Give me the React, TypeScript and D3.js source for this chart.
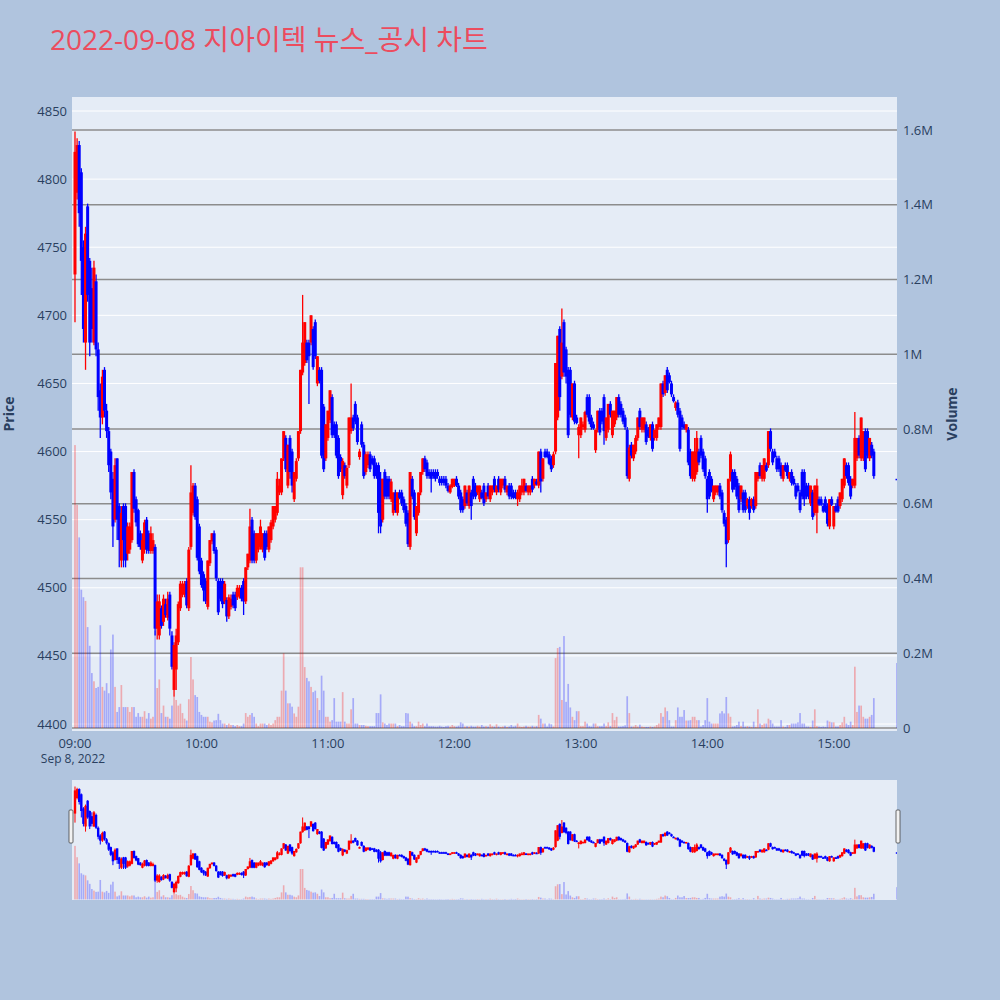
import React, { useEffect, useRef } from 'react';
import * as d3 from 'd3';

const title = '2022-09-08 지아이텍 뉴스_공시 차트';

// one row per minute from 09:00
const opens = [
  4730,4790,4825,4805,4750,4680,4780,4740,4720,4680,
  4725,4675,4645,4625,4660,4630,4615,4600,4580,4550,
  4595,4560,4520,4560,4560,4525,4528,4535,4585,4565,
  4557,4540,4520,4528,4550,4540,4527,4527,4530,4470,
  4465,4485,4475,4488,4478,4495,4465,4425,4440,4460,
  4485,4495,4495,4505,4485,4530,4555,4575,4565,4545,
  4520,4510,4505,4486,4518,4534,4540,4528,4505,4505,
  4505,4490,4491,4479,4486,4495,4495,4493,4494,4500,
  4505,4490,4515,4520,4550,4540,4520,4528,4530,4528,
  4540,4540,4528,4535,4545,4550,4555,4570,4570,4595,
  4610,4575,4610,4600,4565,4580,4595,4615,4658,4665,
  4680,4680,4680,4690,4695,4650,4660,4660,4633,4595,
  4610,4623,4640,4620,4620,4610,4596,4568,4590,4575,
  4590,4615,4625,4635,4625,4596,4620,4605,4585,4590,
  4598,4595,4595,4590,4590,4580,4550,4585,4580,4580,
  4565,4555,4570,4555,4570,4570,4565,4560,4555,4530,
  4580,4570,4540,4555,4570,4585,4595,4592,4585,4585,
  4585,4585,4585,4580,4580,4580,4580,4575,4570,4574,
  4575,4580,4575,4570,4565,4560,4570,4560,4570,4580,
  4575,4570,4565,4570,4575,4565,4575,4565,4570,4580,
  4570,4580,4570,4575,4580,4570,4575,4575,4570,4570,
  4565,4565,4570,4570,4575,4570,4570,4580,4575,4578,
  4575,4600,4580,4600,4600,4598,4595,4590,4600,4625,
  4690,4655,4695,4675,4660,4660,4625,4650,4625,4612,
  4612,4618,4616,4640,4640,4625,4620,4601,4616,4630,
  4630,4640,4610,4616,4635,4612,4620,4625,4640,4635,
  4630,4625,4616,4580,4605,4595,4600,4610,4630,4616,
  4616,4620,4616,4610,4620,4610,4610,4618,4618,4650,
  4643,4660,4656,4650,4640,4632,4636,4630,4625,4620,
  4616,4616,4600,4580,4580,4585,4600,4610,4600,4595,
  4580,4585,4580,4565,4570,4570,4575,4570,4555,4550,
  4535,4580,4585,4585,4580,4575,4565,4570,4570,4560,
  4565,4560,4565,4560,4580,4590,4580,4580,4590,4590,
  4615,4600,4600,4595,4595,4590,4580,4590,4590,4580,
  4585,4580,4575,4575,4570,4585,4585,4575,4575,4562,
  4570,4555,4555,4565,4565,4560,4565,4560,4545,4565,
  4545,4560,4565,4560,4565,4575,4590,4590,4580,4575,
  4575,4595,4610,4595,4595,4615,4615,4595,4605,4600,
];

const highs = [
  4835,4830,4828,4808,4755,4765,4782,4742,4735,4740,
  4730,4680,4650,4660,4662,4635,4618,4602,4585,4595,
  4595,4562,4560,4562,4562,4548,4548,4585,4587,4567,
  4558,4542,4540,4550,4552,4542,4545,4540,4532,4495,
  4495,4487,4495,4492,4497,4497,4468,4460,4470,4490,
  4505,4505,4505,4507,4530,4590,4577,4577,4567,4547,
  4522,4512,4507,4520,4535,4540,4542,4530,4507,4507,
  4507,4505,4493,4495,4495,4497,4497,4502,4502,4502,
  4507,4515,4525,4558,4552,4542,4540,4540,4550,4540,
  4542,4542,4545,4550,4560,4560,4585,4580,4595,4615,
  4612,4605,4612,4602,4585,4595,4615,4660,4715,4695,
  4682,4682,4700,4692,4697,4670,4662,4662,4635,4620,
  4630,4645,4642,4622,4622,4612,4598,4595,4592,4590,
  4625,4650,4627,4637,4627,4602,4622,4607,4600,4600,
  4600,4597,4597,4592,4592,4585,4580,4587,4582,4582,
  4580,4570,4572,4570,4572,4572,4567,4562,4557,4585,
  4582,4572,4560,4570,4585,4595,4597,4594,4587,4587,
  4587,4587,4587,4582,4582,4582,4582,4577,4576,4580,
  4580,4582,4577,4572,4567,4575,4572,4575,4572,4582,
  4577,4575,4575,4572,4577,4570,4577,4575,4575,4582,
  4575,4582,4580,4580,4582,4575,4577,4577,4572,4572,
  4572,4575,4580,4580,4577,4575,4575,4582,4580,4580,
  4600,4602,4595,4602,4602,4600,4597,4600,4665,4685,
  4692,4705,4697,4677,4662,4662,4650,4652,4627,4620,
  4625,4622,4630,4642,4642,4627,4622,4616,4630,4632,
  4632,4642,4625,4635,4637,4630,4630,4640,4642,4637,
  4632,4627,4618,4605,4607,4605,4612,4625,4632,4625,
  4625,4622,4618,4620,4622,4616,4620,4625,4650,4652,
  4656,4662,4658,4652,4642,4637,4638,4632,4627,4622,
  4620,4618,4602,4600,4610,4615,4602,4612,4602,4597,
  4582,4587,4582,4575,4575,4575,4577,4572,4557,4552,
  4580,4600,4587,4587,4582,4577,4575,4572,4572,4566,
  4567,4566,4567,4585,4585,4592,4590,4595,4592,4615,
  4617,4602,4602,4597,4597,4592,4590,4592,4592,4585,
  4587,4582,4577,4577,4572,4587,4587,4577,4577,4575,
  4572,4575,4580,4567,4567,4562,4567,4562,4565,4567,
  4560,4562,4567,4570,4580,4595,4592,4592,4582,4580,
  4629,4610,4612,4625,4615,4617,4617,4610,4607,4602,
];

const lows = [
  4695,4785,4765,4715,4680,4660,4710,4670,4680,4678,
  4670,4630,4610,4620,4625,4610,4585,4565,4530,4548,
  4535,4515,4515,4515,4515,4520,4525,4533,4555,4545,
  4530,4528,4518,4525,4525,4525,4525,4525,4465,4462,
  4462,4470,4472,4478,4476,4465,4440,4420,4425,4458,
  4483,4493,4493,4485,4483,4528,4553,4550,4520,4510,
  4500,4490,4488,4484,4516,4532,4525,4505,4480,4490,
  4485,4488,4475,4477,4484,4485,4483,4491,4492,4490,
  4480,4488,4513,4518,4518,4518,4518,4526,4528,4526,
  4520,4528,4526,4533,4543,4548,4553,4568,4568,4593,
  4585,4573,4580,4570,4563,4578,4593,4613,4656,4663,
  4665,4635,4678,4660,4668,4648,4650,4595,4585,4593,
  4608,4621,4610,4610,4595,4580,4585,4565,4580,4573,
  4588,4613,4615,4620,4605,4594,4603,4580,4583,4588,
  4585,4590,4580,4580,4540,4540,4548,4565,4565,4565,
  4563,4553,4555,4553,4565,4560,4555,4545,4530,4528,
  4565,4550,4538,4553,4568,4583,4585,4580,4580,4570,
  4580,4578,4580,4575,4575,4575,4573,4570,4569,4573,
  4574,4574,4565,4555,4555,4558,4560,4558,4550,4565,
  4565,4568,4563,4565,4560,4563,4565,4563,4568,4570,
  4568,4570,4568,4573,4570,4568,4565,4565,4565,4565,
  4560,4563,4568,4568,4570,4568,4568,4570,4573,4575,
  4573,4570,4578,4595,4595,4590,4585,4588,4598,4623,
  4630,4653,4655,4650,4610,4625,4623,4620,4620,4595,
  4610,4616,4614,4625,4620,4616,4616,4599,4614,4612,
  4620,4605,4608,4614,4625,4610,4618,4623,4625,4625,
  4620,4616,4580,4578,4595,4593,4598,4608,4616,4614,
  4614,4605,4610,4608,4600,4608,4608,4616,4616,4640,
  4641,4643,4650,4640,4636,4630,4625,4600,4616,4616,
  4614,4590,4580,4578,4578,4583,4590,4595,4585,4580,
  4555,4565,4570,4563,4568,4568,4565,4555,4545,4515,
  4533,4578,4570,4572,4565,4555,4563,4555,4555,4558,
  4550,4558,4555,4558,4578,4580,4578,4578,4585,4588,
  4600,4590,4595,4585,4585,4580,4578,4585,4580,4578,
  4575,4575,4565,4570,4555,4565,4560,4565,4565,4560,
  4550,4553,4540,4560,4560,4555,4555,4545,4543,4560,
  4543,4555,4555,4558,4563,4573,4580,4575,4565,4573,
  4573,4593,4595,4593,4593,4585,4595,4593,4595,4580,
];

const closes = [
  4820,4825,4775,4740,4690,4760,4715,4680,4690,4735,
  4675,4640,4625,4655,4630,4615,4590,4570,4545,4590,
  4550,4535,4555,4535,4520,4545,4545,4585,4558,4548,
  4532,4530,4535,4548,4528,4527,4540,4535,4470,4490,
  4490,4472,4492,4480,4492,4470,4442,4458,4465,4488,
  4503,4503,4503,4487,4528,4570,4575,4552,4522,4512,
  4502,4498,4490,4520,4535,4540,4527,4507,4482,4492,
  4488,4503,4479,4493,4492,4487,4485,4500,4500,4492,
  4490,4515,4525,4545,4520,4520,4540,4540,4545,4540,
  4522,4530,4545,4548,4560,4560,4580,4575,4595,4615,
  4587,4605,4585,4575,4585,4593,4615,4660,4680,4695,
  4667,4670,4700,4662,4670,4670,4652,4597,4587,4620,
  4630,4645,4612,4612,4597,4582,4587,4593,4582,4588,
  4625,4625,4617,4622,4607,4600,4605,4582,4598,4598,
  4587,4591,4582,4582,4555,4545,4580,4567,4567,4567,
  4578,4570,4557,4570,4566,4562,4557,4547,4532,4585,
  4567,4552,4560,4570,4585,4595,4587,4582,4582,4580,
  4582,4580,4582,4577,4577,4577,4575,4571,4575,4580,
  4580,4575,4567,4557,4557,4575,4562,4575,4560,4567,
  4567,4575,4575,4566,4562,4570,4567,4575,4575,4572,
  4575,4572,4580,4580,4572,4575,4567,4567,4566,4566,
  4570,4575,4575,4580,4571,4575,4575,4572,4580,4576,
  4600,4578,4595,4596,4596,4591,4587,4598,4665,4685,
  4640,4680,4658,4655,4612,4627,4650,4622,4621,4618,
  4625,4620,4629,4627,4622,4618,4617,4616,4630,4614,
  4622,4615,4625,4635,4627,4630,4630,4640,4627,4627,
  4622,4618,4582,4603,4597,4605,4610,4625,4618,4625,
  4625,4607,4611,4620,4602,4616,4620,4625,4650,4642,
  4656,4645,4651,4642,4637,4636,4627,4602,4618,4617,
  4620,4592,4582,4600,4600,4610,4592,4597,4587,4582,
  4565,4567,4571,4575,4575,4575,4567,4557,4547,4532,
  4580,4598,4572,4574,4567,4557,4575,4557,4557,4565,
  4555,4565,4557,4585,4585,4582,4590,4595,4586,4615,
  4602,4592,4596,4587,4587,4582,4590,4586,4582,4585,
  4577,4576,4567,4571,4557,4567,4565,4567,4567,4575,
  4552,4575,4575,4561,4561,4556,4556,4547,4565,4561,
  4560,4556,4556,4570,4580,4595,4582,4577,4567,4580,
  4610,4610,4597,4625,4615,4587,4597,4610,4597,4582,
];

// volume in thousands of shares
const volumes = [
  757,597,510,370,350,340,270,220,147,125,
  107,110,275,110,100,120,93,210,250,110,
  43,56,115,56,56,56,43,56,56,30,
  40,30,30,45,25,40,25,30,260,107,
  130,40,60,30,30,25,60,83,75,60,
  65,40,25,20,77,190,130,88,83,43,
  35,30,30,30,17,15,20,21,38,21,
  12,12,8,12,8,8,5,8,5,5,
  12,40,30,35,40,30,12,5,12,12,
  12,8,12,8,12,21,30,30,100,200,
  100,66,66,57,39,30,57,430,430,163,
  134,125,110,96,100,80,48,140,100,30,
  30,17,21,80,17,17,17,96,17,12,
  12,50,80,12,12,8,8,8,6,5,
  5,5,5,40,40,90,15,12,8,12,
  12,12,12,5,8,5,5,40,39,17,
  12,5,5,17,8,12,5,12,5,5,
  5,4,4,6,4,3,5,6,4,8,
  5,4,6,15,12,4,5,4,6,4,
  4,6,4,8,4,5,4,10,5,4,
  10,4,3,4,6,3,4,8,4,6,
  12,4,3,4,6,4,4,6,4,5,
  35,25,12,12,4,12,10,4,187,214,
  217,75,246,70,118,55,30,21,45,45,
  5,5,17,12,5,4,12,12,5,5,
  5,12,5,15,5,40,21,30,4,4,
  5,7,85,40,4,4,8,4,9,4,
  3,3,3,4,3,4,8,12,40,30,
  55,45,21,4,4,21,55,30,30,48,
  20,20,21,30,30,21,21,4,8,21,
  80,17,12,12,12,12,39,45,39,83,
  39,30,4,5,8,17,5,17,4,5,
  4,3,17,3,50,12,8,12,12,25,
  21,12,4,4,4,21,4,3,8,8,
  12,12,12,15,40,12,12,4,4,3,
  20,50,5,4,3,4,3,20,17,15,
  15,4,4,8,15,30,12,8,17,8,
  164,43,60,60,30,25,25,30,35,80,
];

// closing auction print at 15:30
const auctionMinute = 390;
const auctionPrice = 4580;
const auctionVolume = 174;

const priceTicks = [4400, 4450, 4500, 4550, 4600, 4650, 4700, 4750, 4800, 4850];
const volumeTicks = [0, 200, 400, 600, 800, 1000, 1200, 1400, 1600];
const volumeTickLabels = ['0', '0.2M', '0.4M', '0.6M', '0.8M', '1M', '1.2M', '1.4M', '1.6M'];

const UP = '#ff0000';
const DOWN = '#0000ff';
const FONT = '"Open Sans", "Noto Sans CJK KR", verdana, arial, sans-serif';
const TICK_COLOR = '#2a3f5f';

const at = (m) => new Date(2022, 8, 8, 9, m);

const App = () => {
  const svgRef = useRef(null);

  useEffect(() => {
    const svg = d3.select(svgRef.current);
    svg.selectAll('*').remove();

    const candles = opens.map((o, i) => ({
      t: at(i), o, h: highs[i], l: lows[i], c: closes[i], v: volumes[i],
    }));
    candles.push({
      t: at(auctionMinute), o: auctionPrice, h: auctionPrice, l: auctionPrice, c: auctionPrice, v: auctionVolume,
    });

    const plot = { left: 72, right: 897, top: 97, bottom: 731 };
    const slider = { top: 780, bottom: 900 };

    const x = d3.scaleTime()
      .domain([new Date(at(0).getTime() - 1.42 * 60000), at(390)])
      .range([plot.left, plot.right]);

    const y = d3.scaleLinear().domain([4400, 4850]).range([724, 111]);
    const yv = d3.scaleLinear().domain([0, 1600]).range([728, 130]);

    // page background
    svg.append('rect').attr('width', 1000).attr('height', 1000).attr('fill', '#b0c4de');

    svg.append('text')
      .attr('x', 50).attr('y', 50)
      .attr('font-family', FONT).attr('font-size', 28)
      .attr('fill', '#ec4c5e')
      .text(title);

    const defs = svg.append('defs');
    defs.append('clipPath').attr('id', 'plotClip')
      .append('rect').attr('x', plot.left).attr('y', plot.top)
      .attr('width', plot.right - plot.left).attr('height', plot.bottom - plot.top);

    svg.append('rect')
      .attr('x', plot.left).attr('y', plot.top)
      .attr('width', plot.right - plot.left).attr('height', plot.bottom - plot.top)
      .attr('fill', '#e5ecf6');

    // price grid (white)
    svg.append('g').selectAll('line').data(priceTicks).enter().append('line')
      .attr('x1', plot.left).attr('x2', plot.right)
      .attr('y1', d => y(d)).attr('y2', d => y(d))
      .attr('stroke', '#ffffff').attr('stroke-width', 1);

    // volume grid (gray)
    svg.append('g').selectAll('line').data(volumeTicks).enter().append('line')
      .attr('x1', plot.left).attr('x2', plot.right)
      .attr('y1', d => yv(d)).attr('y2', d => yv(d))
      .attr('stroke', '#8c8c8c').attr('stroke-width', 1.4);

    const drawSeries = (g, xs, ys, yvs, bodyW, wickW, barW) => {
      g.selectAll('.vol').data(candles).enter().append('rect')
        .attr('class', 'vol')
        .attr('x', d => xs(d.t) - barW / 2)
        .attr('width', barW)
        .attr('y', d => yvs(d.v))
        .attr('height', d => Math.max(0, yvs(0) - yvs(d.v)))
        .attr('fill', d => (d.c > d.o ? UP : DOWN))
        .attr('fill-opacity', 0.28);

      g.selectAll('.wick').data(candles).enter().append('line')
        .attr('class', 'wick')
        .attr('x1', d => xs(d.t)).attr('x2', d => xs(d.t))
        .attr('y1', d => ys(d.h)).attr('y2', d => ys(d.l))
        .attr('stroke', d => (d.c > d.o ? UP : DOWN))
        .attr('stroke-width', wickW);

      g.selectAll('.body').data(candles).enter().append('rect')
        .attr('class', 'body')
        .attr('x', d => xs(d.t) - bodyW / 2)
        .attr('width', bodyW)
        .attr('y', d => ys(Math.max(d.o, d.c)))
        .attr('height', d => Math.max(1.5, Math.abs(ys(d.o) - ys(d.c))))
        .attr('fill', d => (d.c > d.o ? UP : DOWN));
    };

    const main = svg.append('g').attr('clip-path', 'url(#plotClip)');
    drawSeries(main, x, y, yv, 3, 1.3, 1.7);

    // left price axis labels
    svg.append('g').selectAll('text').data(priceTicks).enter().append('text')
      .attr('x', 67).attr('y', d => y(d))
      .attr('dy', '0.35em')
      .attr('text-anchor', 'end')
      .attr('font-family', FONT).attr('font-size', 13).attr('fill', TICK_COLOR)
      .text(d => d);

    // right volume axis labels
    svg.append('g').selectAll('text').data(volumeTicks).enter().append('text')
      .attr('x', 903).attr('y', d => yv(d))
      .attr('dy', '0.35em')
      .attr('font-family', FONT).attr('font-size', 13).attr('fill', TICK_COLOR)
      .text((d, i) => volumeTickLabels[i]);

    // time axis
    const hours = x.ticks(d3.timeHour.every(1));
    svg.append('g').selectAll('text').data(hours).enter().append('text')
      .attr('x', d => x(d)).attr('y', 743)
      .attr('dy', '0.35em')
      .attr('text-anchor', 'middle')
      .attr('font-family', FONT).attr('font-size', 13).attr('fill', TICK_COLOR)
      .text(d => d3.timeFormat('%H:%M')(d));

    svg.append('text')
      .attr('x', x(hours[0]) - 2).attr('y', 759)
      .attr('dy', '0.35em')
      .attr('text-anchor', 'middle')
      .attr('font-family', FONT).attr('font-size', 12).attr('fill', TICK_COLOR)
      .text(d3.timeFormat('%b %-d, %Y')(hours[0]));

    svg.append('text')
      .attr('transform', 'translate(14,414) rotate(-90)')
      .attr('text-anchor', 'middle')
      .attr('font-family', FONT).attr('font-size', 14).attr('font-weight', 'bold')
      .attr('fill', TICK_COLOR)
      .text('Price');

    svg.append('text')
      .attr('transform', 'translate(957,414) rotate(-90)')
      .attr('text-anchor', 'middle')
      .attr('font-family', FONT).attr('font-size', 14).attr('font-weight', 'bold')
      .attr('fill', TICK_COLOR)
      .text('Volume');

    // range slider
    const ys = d3.scaleLinear().domain([y.invert(plot.bottom), y.invert(plot.top)]).range([slider.bottom, slider.top]);
    const yvs = d3.scaleLinear().domain([yv.invert(plot.bottom), yv.invert(plot.top)]).range([slider.bottom, slider.top]);

    defs.append('clipPath').attr('id', 'sliderClip')
      .append('rect').attr('x', plot.left).attr('y', slider.top)
      .attr('width', plot.right - plot.left).attr('height', slider.bottom - slider.top);

    svg.append('rect')
      .attr('x', plot.left).attr('y', slider.top)
      .attr('width', plot.right - plot.left).attr('height', slider.bottom - slider.top)
      .attr('fill', '#e5ecf6');

    const mini = svg.append('g').attr('clip-path', 'url(#sliderClip)');
    drawSeries(mini, x, ys, yvs, 2.4, 1, 1.6);

    [plot.left - 3, plot.right - 1].forEach(hx => {
      svg.append('rect')
        .attr('x', hx).attr('y', 810)
        .attr('width', 4).attr('height', 33)
        .attr('fill', '#f2f2f2').attr('stroke', '#444').attr('stroke-width', 0.8)
        .attr('rx', 1);
    });
  }, []);

  return (
    <svg ref={svgRef} width={1000} height={1000} style={{ position: 'absolute', left: 0, top: 0 }}></svg>
  );
};

export default App;
